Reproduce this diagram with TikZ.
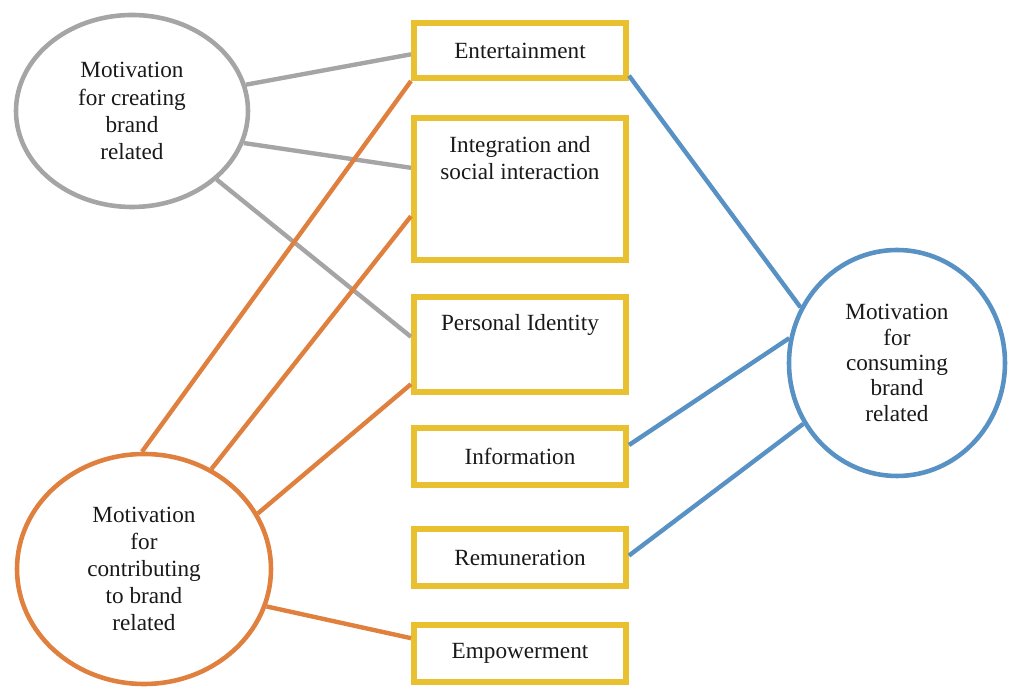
\documentclass[tikz,border=0pt]{standalone}
\usepackage{fontspec}
\setmainfont{Liberation Serif}
\usepackage{tikz}
\usetikzlibrary{shapes,positioning}
\definecolor{boxyellow}{RGB}{233,193,48}
\definecolor{creategray}{RGB}{165,165,165}
\definecolor{contriborange}{RGB}{224,128,62}
\definecolor{consumeblue}{RGB}{88,145,196}
\tikzstyle{box} = [rectangle, draw=boxyellow, line width=3.4pt, minimum width=4.24cm, text centered]
\tikzstyle{motive} = [ellipse, draw, line width=2.6pt, align=center, inner sep=0pt]
\tikzstyle{line} = [draw, line width=2.5pt]

\begin{document}
\begin{tikzpicture}[font=\fontsize{13.2}{15.4}\selectfont, text=black!90]
		\useasboundingbox (0,0) rectangle (20.22,-13.78);
		% Place nodes
		\node [box, minimum height=1.1cm] (entert) at (10.4,-1.01) {Entertainment};
		\node [box, minimum height=2.84cm] (integ) at (10.4,-3.78) {};
		\node [below=0.3cm of integ.north, align=center] (integtxt) {Integration and\\social interaction};
		\node [box, minimum height=1.9cm] (pid) at (10.4,-6.89) {};
		\node [below=0.28cm of pid.north] (pidtxt) {Personal Identity};
		\node [box, minimum height=1.14cm] (info) at (10.4,-9.13) {Information};
		\node [box, minimum height=1.14cm] (remun) at (10.4,-11.15) {Remuneration};
		\node [box, minimum height=1.14cm] (empow) at (10.4,-13.07) {Empowerment};
		\node [motive, draw=creategray, minimum width=4.64cm, minimum height=3.84cm] (create) at (2.64,-2.22) {Motivation\\for creating\\brand\\related};
		\node [motive, draw=contriborange, minimum width=5.08cm, minimum height=4.6cm] (contrib) at (2.88,-11.38) {Motivation\\for\\contributing\\to brand\\related};
		\node [motive, draw=consumeblue, minimum width=4.32cm, minimum height=4.52cm, font=\fontsize{13.2}{14.4}\selectfont] (consume) at (17.94,-7.26) {Motivation\\for\\consuming\\brand\\related};
		% Draw edges
		\path [line, draw=creategray] (create.13) -- (entert.182);
		\path [line, draw=creategray] (create.-16) -- (integ.169);
		\path [line, draw=creategray] (create.-39) -- (pid.176);
		\path [line, draw=contriborange] (contrib.91) -- (entert.south west);
		\path [line, draw=contriborange] (contrib.56) -- (integ.194);
		\path [line, draw=contriborange] (contrib.26) -- (pid.200);
		\path [line, draw=contriborange] (contrib.-17) -- (empow.172);
		\path [line, draw=consumeblue] (entert.-13) -- (consume.150);
		\path [line, draw=consumeblue] (info.6) -- (consume.167);
		\path [line, draw=consumeblue] (remun.1) -- (consume.213);
	\end{tikzpicture}
\end{document}
